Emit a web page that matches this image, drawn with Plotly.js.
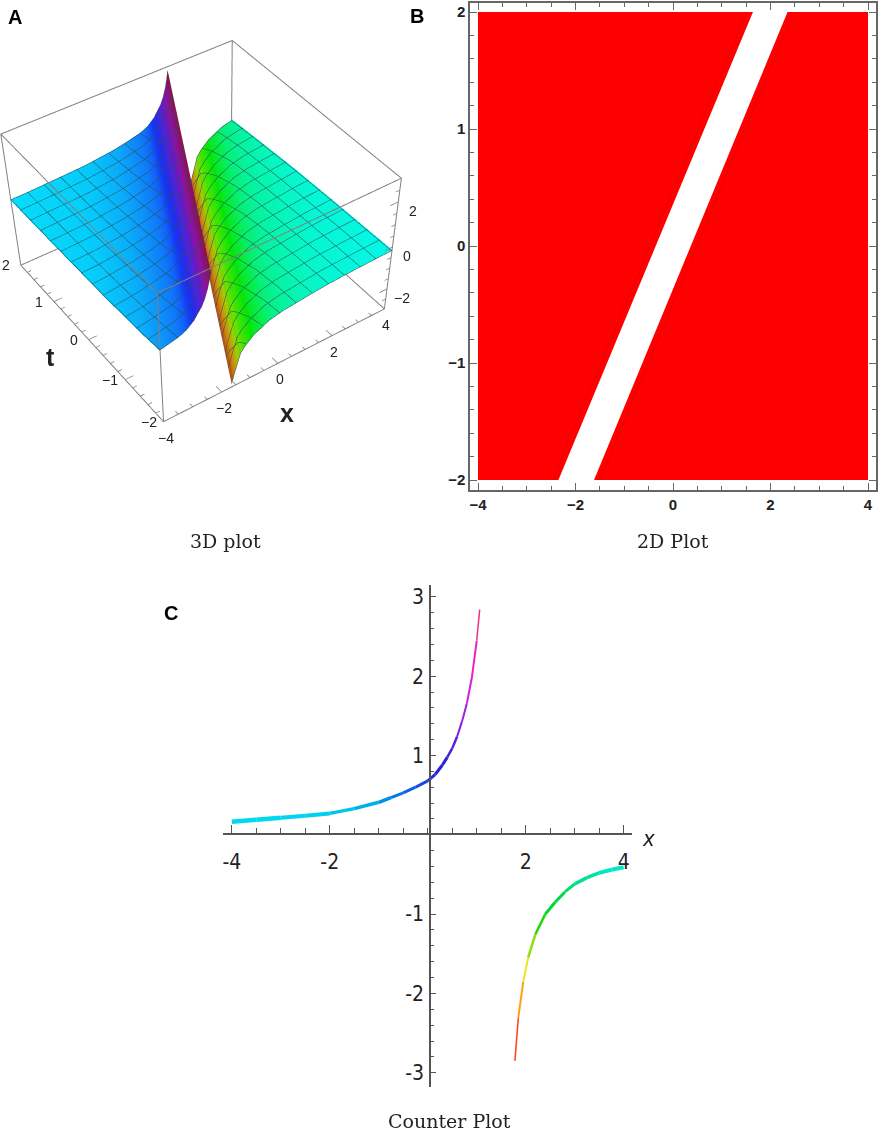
<!DOCTYPE html>
<html>
<head>
<meta charset="utf-8">
<script src="https://cdn.plot.ly/plotly-3.0.1.min.js"></script>
<style>html,body{margin:0;padding:0;background:#fff}</style>
</head>
<body>
<div id="chart" style="width:879px;height:1130px"></div>
<script>
'use strict';
const W = 879, H = 1130;

// Panel A: surface section, height against distance from the pole
const tRows = [-2,-1.75,-1.5,-1.25,-1,-0.75,-0.5,-0.25,0,0.25,0.5,0.75,1,1.25,1.5,1.75,2];
const leftOffset = [0.35,0.4,0.45,0.55,0.65,0.75,0.9,1.15,1.4,1.9,2.4,3.4,4.4,5.4,6.2];
const leftZ = [2.85,2.5,2.2,1.8,1.53,1.36,1.09,0.82,0.68,0.53,0.41,0.27,0.215,0.165,0.15];
const rightOffset = [0.35,0.4,0.45,0.55,0.65,0.8,1.1,1.6,2.1,2.6,3.6,4.6,6.2];
const rightZ = [-2.84,-2.6,-2.35,-1.95,-1.53,-1.28,-0.95,-0.63,-0.48,-0.41,-0.28,-0.22,-0.16];
const surfaceColors = [[0,'#a83a20'],[0.1,'#e08a10'],[0.2,'#a8e000'],[0.33,'#00e000'],[0.395,'#00e870'],[0.44,'#00f0b8'],[0.47,'#00f0e0'],[0.5,'#00e8f0'],[0.54,'#00c8f4'],[0.67,'#1030f0'],[0.83,'#9a10b8'],[1,'#a01038']];
const rangeX = [-4,4], rangeT = [-2,2], rangeZ = [-3,3];
const xTicks3d = [-4,-2,0,2,4], tTicks3d = [-2,-1,0,1,2], zTicks3d = [-2,0,2];
const xMinor3d = [-3.5,-3,-2.5,-1.5,-1,-0.5,0.5,1,1.5,2.5,3,3.5];
const tMinor3d = [-1.8,-1.6,-1.4,-1.2,-0.8,-0.6,-0.4,-0.2,0.2,0.4,0.6,0.8,1.2,1.4,1.6,1.8];
const zMinor3d = [-2.5,-1.5,-1,-0.5,0.5,1,1.5,2.5];

// Panel B: red regions either side of the strip
const leftRedX = [-4,-2.35,1.64,-4,-4];
const leftRedY = [-2,-2,2,2,-2];
const rightRedX = [-1.62,4,4,2.35,-1.62];
const rightRedY = [-2,-2,2,2,-2];
const edgeLineXs = [[-2.47,1.52],[-1.5,2.47],[-2.95,1.05],[-1,2.95]];
const edgeLineY = [-2,2];

// Panel C: the two branches
const upperX = [-4,-3.5,-3,-2.5,-2,-1.5,-1,-0.75,-0.5,-0.25,0,0.15,0.3,0.4,0.5,0.6,0.7,0.8,0.9,1,1.06];
const upperY = [0.165,0.19,0.215,0.24,0.27,0.33,0.41,0.47,0.53,0.6,0.68,0.76,0.88,0.98,1.09,1.24,1.43,1.66,1.98,2.45,2.84];
const upperColor = ['#00d8f0','#00d8f0','#00d4f0','#00d0f0','#00c4e8','#00b0e8','#0090e0','#0878e0','#1060e0','#1848e0','#2030e0','#2820dc','#3020d8','#4820d8','#6020d8','#8020dc','#a020e0','#d020d8','#f020c0','#f03080'];
const upperWidth = [4.5,4.5,4,4,3.5,3.5,3.5,3,3,3,3,3,3,2.5,2.5,2,2,2,2,1.5];
const lowerX = [1.78,1.85,1.95,2.05,2.2,2.4,2.6,2.8,3,3.25,3.5,3.75,4];
const lowerY = [-2.85,-2.3,-1.85,-1.55,-1.25,-1,-0.85,-0.72,-0.62,-0.54,-0.48,-0.44,-0.41];
const lowerColor = ['#ff4010','#ffa010','#e8e820','#90e010','#20d810','#00d830','#00d848','#00e070','#00e090','#00e0a0','#00e8c0','#00e8c8'];
const lowerWidth = [1.5,2,2,2.5,2.5,3,3,3,3.5,3.5,4,4];

const tickC = [-4,-2,2,4], tickCText = ['-4','-2','2','4'];
const tickCY = [-3,-2,-1,1,2,3], tickCYText = ['-3','-2','-1','1','2','3'];

// px -> paper helpers
const px = v => v / W, py = v => 1 - v / H;
const minusText = v => String(v).replace('-', '\u2212');

function surfaceTrace(offset, z, sign) {
    const line = { show:true, color:'#24505a', width:1 };
    return {
        type:'surface',
        x:tRows.map(t => offset.map(d => t - sign * d)),
        y:tRows.map(t => offset.map(() => t)),
        z:tRows.map(() => z), surfacecolor:tRows.map(() => z),
        cmin:-3, cmax:3, colorscale:surfaceColors, showscale:false, hoverinfo:'skip',
        lighting:{ ambient:0.85, diffuse:0.3, specular:0.05, roughness:0.8 },
        contours:{ x:Object.assign({start:-4,end:4,size:0.57}, line), y:Object.assign({start:-2,end:2,size:0.285}, line) }
    };
}

const traces = [surfaceTrace(leftOffset, leftZ, 1), surfaceTrace(rightOffset, rightZ, -1)];

// box edges, drawn as a trace so the front ones show too
const [x0,x1] = rangeX, [t0,t1] = rangeT, [z0,z1] = rangeZ;
const edgeX = [x0,x1,x1,x0,x0,null, x0,x1,x1,x0,x0,null, x0,x0,null, x1,x1,null, x1,x1,null, x0,x0];
const edgeT = [t0,t0,t1,t1,t0,null, t0,t0,t1,t1,t0,null, t0,t0,null, t0,t0,null, t1,t1,null, t1,t1];
const edgeZ = [z0,z0,z0,z0,z0,null, z1,z1,z1,z1,z1,null, z0,z1,null, z0,z1,null, z0,z1,null, z0,z1];
traces.push({ type:'scatter3d', mode:'lines', x:edgeX, y:edgeT, z:edgeZ, line:{ color:'#808080', width:2 }, hoverinfo:'skip', showlegend:false });

// 3D ticks along the three labelled edges
const tickX = [], tickT = [], tickZ = [];
const seg = (a, b) => { tickX.push(a[0], b[0], null); tickT.push(a[1], b[1], null); tickZ.push(a[2], b[2], null); };
xTicks3d.forEach(v => seg([v,t0,z0],[v,t0+0.14,z0]));
xMinor3d.forEach(v => seg([v,t0,z0],[v,t0+0.07,z0]));
tTicks3d.forEach(v => seg([x0,v,z0],[x0+0.28,v,z0]));
tMinor3d.forEach(v => seg([x0,v,z0],[x0+0.14,v,z0]));
zTicks3d.forEach(v => seg([x1,t0,v],[x1-0.28,t0,v]));
zMinor3d.forEach(v => seg([x1,t0,v],[x1-0.14,t0,v]));
traces.push({ type:'scatter3d', mode:'lines', x:tickX, y:tickT, z:tickZ, line:{ color:'#808080', width:1.5 }, hoverinfo:'skip', showlegend:false });

// Panel B traces
[[leftRedX,leftRedY],[rightRedX,rightRedY]].forEach(([x,y]) => traces.push({
    type:'scatter', mode:'lines', x, y, xaxis:'x', yaxis:'y', fill:'toself', fillcolor:'#ff0000',
    line:{ color:'#ff0000', width:0 }, hoverinfo:'skip', showlegend:false
}));
edgeLineXs.forEach((x, i) => traces.push({
    type:'scatter', mode:'lines', x, y:edgeLineY, xaxis:'x', yaxis:'y',
    line:{ color:i < 2 ? '#d00000' : '#ee0000', width:0.5 }, hoverinfo:'skip', showlegend:false
}));

// Panel C traces, one per coloured stretch
function addBranch(xs, ys, colors, widths) {
    colors.forEach((c, i) => traces.push({
        type:'scatter', mode:'lines', x:xs.slice(i, i+2), y:ys.slice(i, i+2), xaxis:'x2', yaxis:'y2',
        line:{ color:c, width:widths[i] }, hoverinfo:'skip', showlegend:false
    }));
}
addBranch(upperX, upperY, upperColor, upperWidth);
addBranch(lowerX, lowerY, lowerColor, lowerWidth);

const boldTick = { family:'Liberation Sans', size:15, color:'#222', weight:700 };
const narrowTick = { family:'DejaVu Sans Condensed', size:21, color:'#222' };
const hiddenAxis = { showbackground:false, showgrid:false, zeroline:false, showline:false, showticklabels:false, ticks:'', showspikes:false, title:{ text:'' } };

// tick labels of the 3D box
const label3d = (x, y, z, v, xshift, yshift) => ({ x, y, z, text:minusText(v), showarrow:false, xshift, yshift,
    font:{ family:'Liberation Sans', size:14, color:'#222' } });
const sceneLabels = [].concat(
    xTicks3d.map(v => label3d(v, t0, z0, v, 2, -16)),
    tTicks3d.map(v => label3d(x0, v, z0, v, -15, 0)),
    zTicks3d.map(v => label3d(x1, t0, v, v, 15, -9))
);

const cap = (x, y, text) => ({ xref:'paper', yref:'paper', x:px(x), y:py(y), text, showarrow:false, xanchor:'center', yanchor:'middle',
    font:{ family:'DejaVu Serif', size:19, color:'#222' } });
const letter = (x, y, text) => ({ xref:'paper', yref:'paper', x:px(x), y:py(y), text, showarrow:false, xanchor:'center', yanchor:'middle',
    font:{ family:'Liberation Sans', size:20, color:'#000', weight:700 } });
const axisName = (x, y, text) => ({ xref:'paper', yref:'paper', x:px(x), y:py(y), text, showarrow:false, xanchor:'center', yanchor:'middle',
    font:{ family:'Liberation Sans', size:25, color:'#222', weight:700 } });

const layout = {
    width:W, height:H, margin:{ l:0, r:0, t:0, b:0 }, paper_bgcolor:'#fff', plot_bgcolor:'#fff', showlegend:false,
    scene:{
        domain:{ x:[0, px(440)], y:[0, 1] },
        aspectmode:'manual', aspectratio:{ x:1, y:1, z:0.6 },
        camera:{ eye:{ x:-2.199, y:-3.270, z:3.245 }, center:{ x:-0.5082, y:-0.8575, z:-0.7354 }, up:{ x:0, y:0, z:1 } },
        // a hair wider than the box, so its edges are not cut by the clipping bounds
        xaxis:Object.assign({}, hiddenAxis, { range:[x0-0.02, x1+0.02] }),
        yaxis:Object.assign({}, hiddenAxis, { range:[t0-0.01, t1+0.01] }),
        zaxis:Object.assign({}, hiddenAxis, { range:[z0-0.02, z1+0.02] }),
        annotations:sceneLabels
    },
    xaxis:{ domain:[px(470), px(876)], range:[-4.164,4.164], anchor:'y', tickvals:[-4,-2,0,2,4], showgrid:false, zeroline:false,
        showline:true, mirror:'allticks', linecolor:'#666', linewidth:1.5, ticks:'inside', ticklen:7, tickcolor:'#666', tickfont:boldTick,
        minor:{ dtick:0.5, ticks:'inside', ticklen:4, tickcolor:'#666' } },
    yaxis:{ domain:[py(490), py(3)], range:[-2.085,2.077], anchor:'x', tickvals:[-2,-1,0,1,2], showgrid:false, zeroline:false,
        showline:true, mirror:'allticks', linecolor:'#666', linewidth:1.5, ticks:'inside', ticklen:7, tickcolor:'#666', tickfont:boldTick,
        minor:{ dtick:0.2, ticks:'inside', ticklen:4, tickcolor:'#666' } },
    xaxis2:{ domain:[px(223), px(632)], range:[-4.18,4.17], anchor:'free', position:py(834), tickvals:tickC, ticktext:tickCText,
        showgrid:false, zeroline:false, showline:true, linecolor:'#555', linewidth:1.5, ticks:'inside', ticklen:8, tickcolor:'#555', ticklabelstandoff:9,
        tickfont:narrowTick, minor:{ dtick:0.5, ticks:'inside', ticklen:5, tickcolor:'#555' } },
    yaxis2:{ domain:[py(1087), py(585)], range:[-3.18,3.15], anchor:'free', position:px(430), tickvals:tickCY, ticktext:tickCYText,
        showgrid:false, zeroline:false, showline:true, linecolor:'#555', linewidth:1.5, ticks:'inside', ticklen:5, tickcolor:'#555', ticklabelstandoff:1,
        tickfont:narrowTick, minor:{ dtick:0.2, ticks:'inside', ticklen:3, tickcolor:'#555' } },
    annotations:[
        letter(15,17,'A'), letter(417,16,'B'), letter(171,613,'C'),
        cap(226,541,'3D plot'), cap(673,541,'2D Plot'), cap(449,1121,'Counter Plot'),
        axisName(50,357,'t'), axisName(287,413,'x'),
        { xref:'paper', yref:'paper', x:px(648), y:py(838), text:'x', showarrow:false, xanchor:'center', yanchor:'middle',
          font:{ family:'DejaVu Sans Condensed', size:22, color:'#222', style:'italic' } }
    ]
};

Plotly.newPlot('chart', traces, layout, { displayModeBar:false });
</script>
</body>
</html>
